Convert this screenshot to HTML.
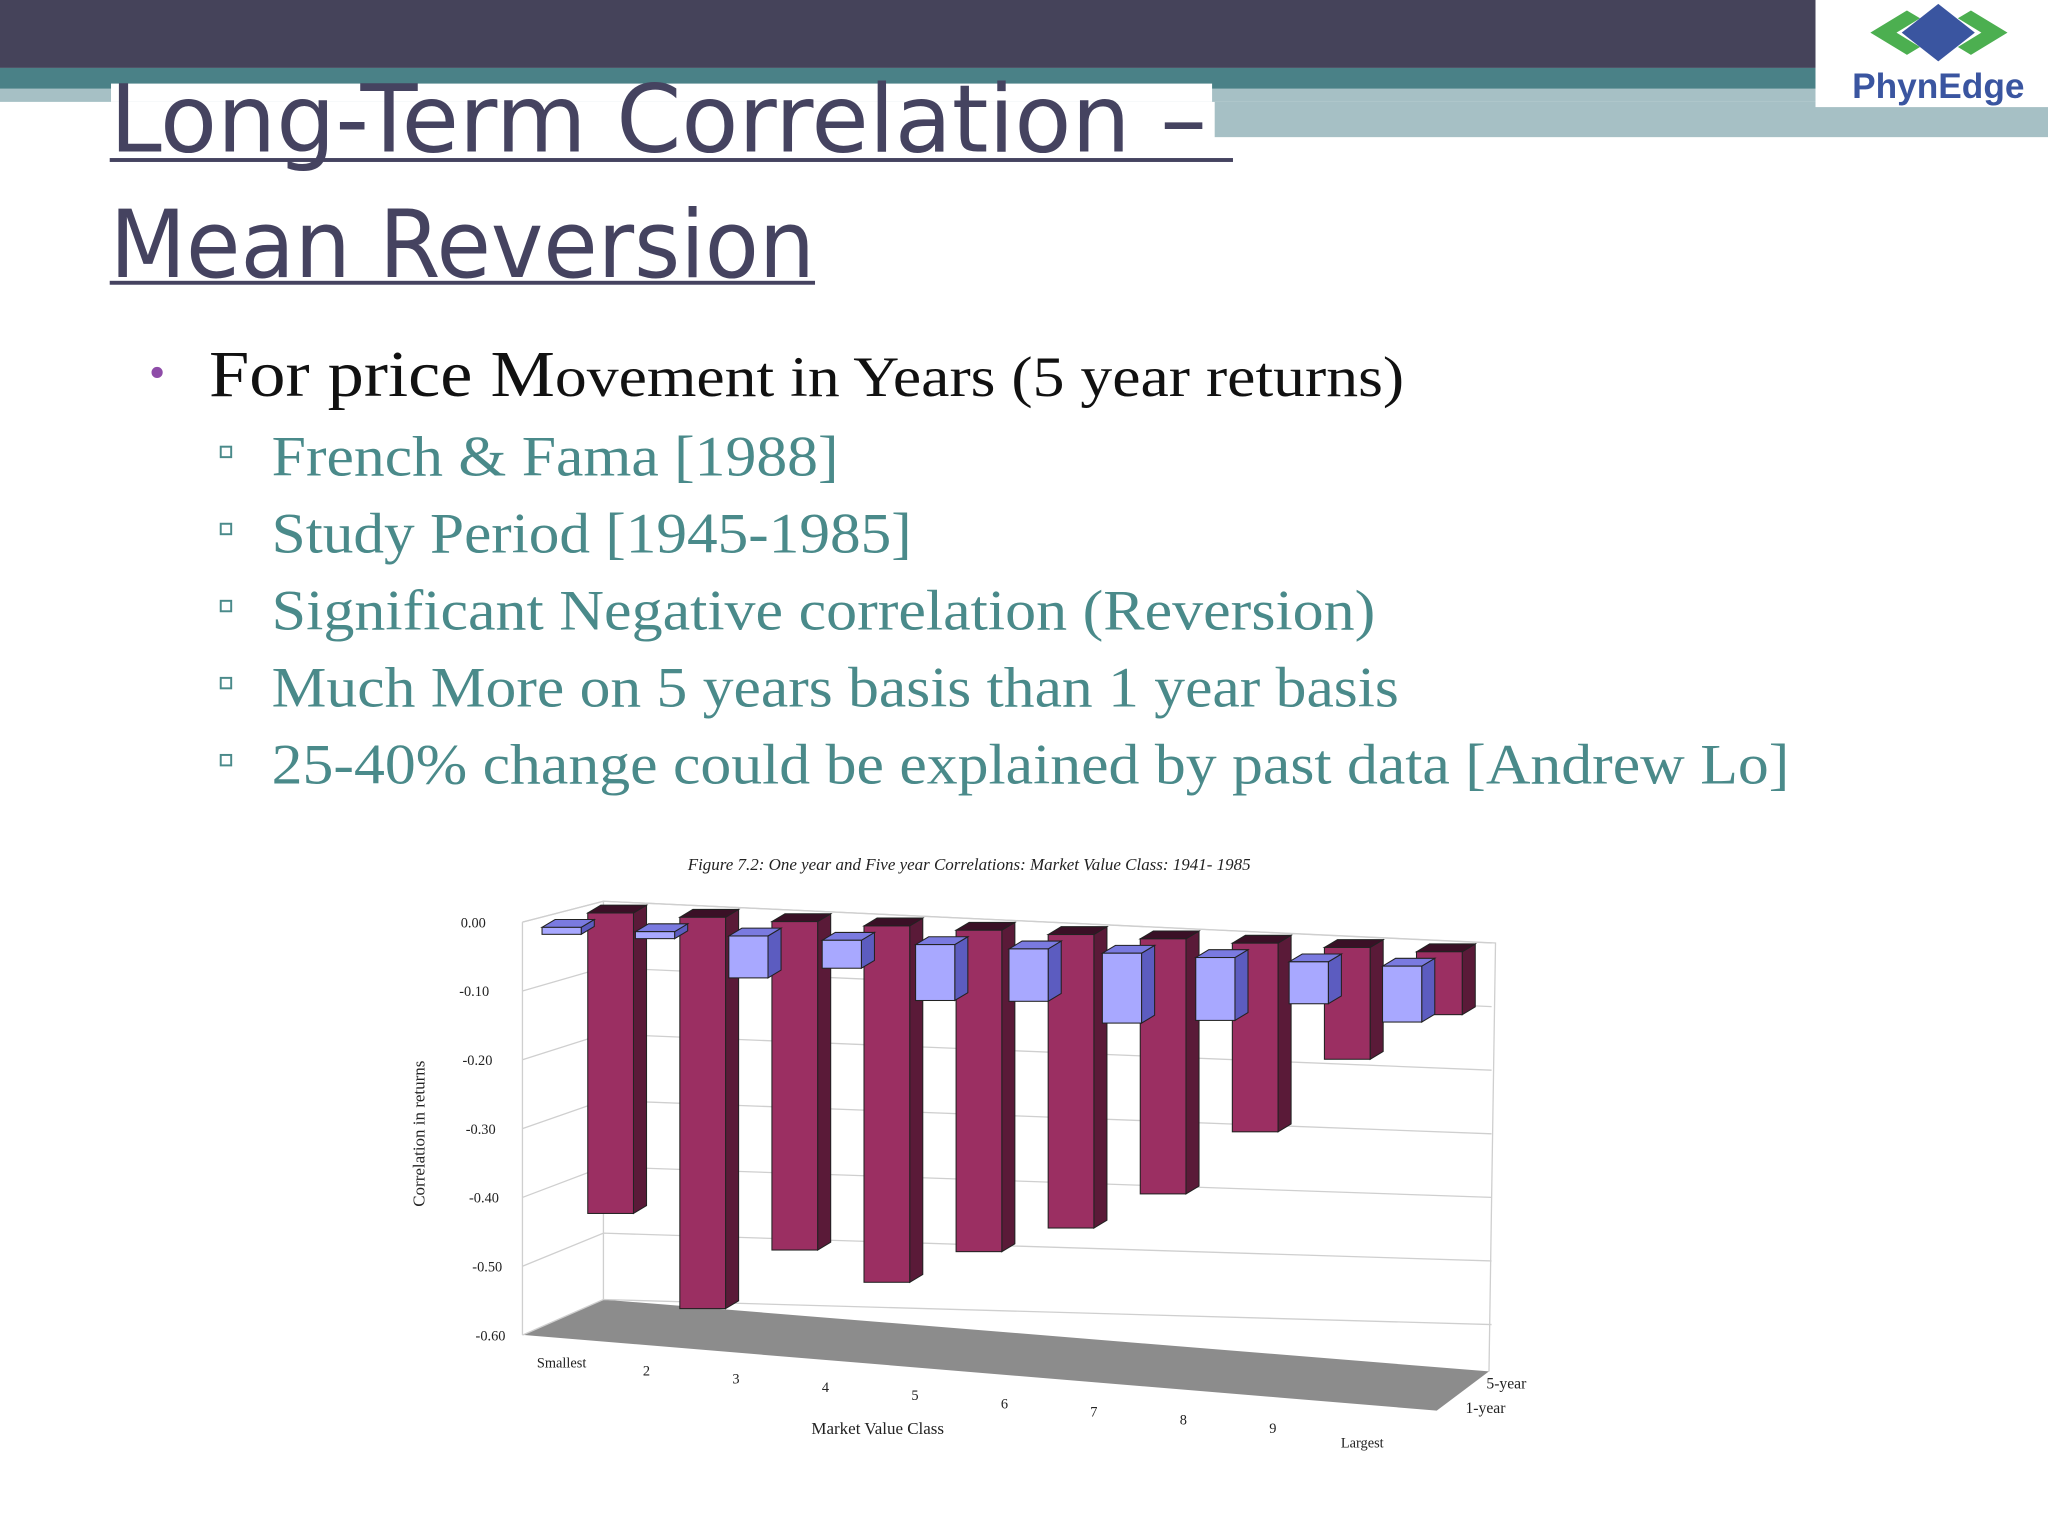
<!DOCTYPE html>
<html><head><meta charset="utf-8"><style>html,body{margin:0;padding:0;background:#fff}svg{display:block}</style></head>
<body>
<svg id="s" width="2048" height="1536" viewBox="0 0 1568 1176" xmlns="http://www.w3.org/2000/svg">
<rect x="0" y="0" width="1568" height="52" fill="#45435a"/>
<rect x="0" y="52" width="1390" height="16" fill="#4a8187"/>
<rect x="0" y="68" width="1568" height="10" fill="#a6c0c5"/>
<rect x="930" y="78" width="638" height="27" fill="#a6c0c5"/>
<rect x="1390" y="0" width="178" height="82" fill="#fff"/>
<g>
<polygon points="1432,25 1460,8 1470,14 1452,25 1470,36 1460,42" fill="#4caf50"/>
<polygon points="1537,25 1509,8 1499,14 1517,25 1499,36 1509,42" fill="#4caf50"/>
<polygon points="1484,3 1512,25 1484,47 1456,25" fill="#3a55a0"/>
<text x="1484" y="75" text-anchor="middle" font-family="Liberation Sans, sans-serif" font-size="27" font-weight="bold" fill="#3a55a0">PhynEdge</text>
</g>
<rect x="85" y="64" width="843" height="14" fill="#fff"/>
<g font-family="DejaVu Sans, Liberation Sans, sans-serif" fill="#454360" font-size="72">
<text x="84" y="116" textLength="840" lengthAdjust="spacingAndGlyphs">Long-Term Correlation –</text>
<rect x="84" y="121" width="860" height="3" fill="#454360"/>
<text x="84" y="212" textLength="540" lengthAdjust="spacingAndGlyphs">Mean Reversion</text>
<rect x="84" y="215" width="540" height="3" fill="#454360"/>
</g>
<g font-family="Liberation Serif, serif">
<text x="114" y="297" font-size="36" fill="#8e4ca8">•</text>
<text x="160" y="303" font-size="50" fill="#111" textLength="915" lengthAdjust="spacingAndGlyphs">For price M<tspan font-size="44">ovement in Years (5 year returns)</tspan></text>
<g fill="#4a8a8a" font-size="44">
<text x="208" y="364" textLength="434" lengthAdjust="spacingAndGlyphs">French &amp; Fama [1988]</text>
<text x="208" y="423" textLength="490" lengthAdjust="spacingAndGlyphs">Study Period [1945-1985]</text>
<text x="208" y="482" textLength="845" lengthAdjust="spacingAndGlyphs">Significant Negative correlation (Reversion)</text>
<text x="208" y="541" textLength="863" lengthAdjust="spacingAndGlyphs">Much More on 5 years basis than 1 year basis</text>
<text x="208" y="600" textLength="1162" lengthAdjust="spacingAndGlyphs">25-40% change could be explained by past data [Andrew Lo]</text>
</g>
<g fill="none" stroke="#4a8a8a" stroke-width="1.5">
<rect x="169" y="342" width="8" height="8"/><rect x="169" y="401" width="8" height="8"/><rect x="169" y="460" width="8" height="8"/><rect x="169" y="519" width="8" height="8"/><rect x="169" y="578" width="8" height="8"/>
</g>
</g>
<g id="chart" font-family="Liberation Serif, serif">
<text x="742" y="666" text-anchor="middle" font-size="13" font-style="italic" fill="#222">Figure 7.2: One year and Five year Correlations: Market Value Class: 1941- 1985</text>
<polygon points="400,1022 462,995 1140,1050 1100,1080" fill="#8c8c8c"/>
<g id="grid" stroke="#cfcfcf" stroke-width="1" fill="none"></g>
<g id="bars"></g>
<text transform="translate(325,868) rotate(-90)" text-anchor="middle" font-size="13" fill="#222">Correlation in returns</text>
<text x="672" y="1098" text-anchor="middle" font-size="13" fill="#222">Market Value Class</text>
<text x="1138" y="1063" font-size="12" fill="#222">5-year</text>
<text x="1122" y="1082" font-size="12" fill="#222">1-year</text>
<g id="labels" font-size="12" fill="#222"></g>
</g>
</svg>
<script>
const categories = ["Smallest","2","3","4","5","6","7","8","9","Largest"];
const oneYear = [-0.01,-0.01,-0.06,-0.04,-0.08,-0.075,-0.10,-0.09,-0.06,-0.08];
const fiveYear = [-0.43,-0.56,-0.47,-0.51,-0.46,-0.42,-0.365,-0.27,-0.16,-0.09];
const yTicks = ["0.00","-0.10","-0.20","-0.30","-0.40","-0.50","-0.60"];
const tickVals = [0,-0.1,-0.2,-0.3,-0.4,-0.5,-0.6];
const NS="http://www.w3.org/2000/svg";
const K=535;
function mk(t,a,p){const e=document.createElementNS(NS,t);for(const k in a)e.setAttribute(k,a[k]);p.appendChild(e);return e;}
const grid=document.getElementById('grid'), bars=document.getElementById('bars'), labels=document.getElementById('labels');
mk('polyline',{points:"400,706 462,690 462,995"},grid);
mk('polyline',{points:"462,690 1145,722 1140,1050"},grid);
mk('line',{x1:400,y1:706,x2:400,y2:1022},grid);
tickVals.forEach((v,j)=>{
  const yl=706-v*K*0.985, yb=690-v*K*0.95, yr=722-v*K*0.91;
  const l=mk('polyline',{points:`400,${yl} 462,${yb} 1142,${yr}`},grid);
  
  
  const t=mk('text',{x:372+j*2.5,y:yl+4,'text-anchor':'end','font-size':11},labels);
  t.textContent=yTicks[j];
  
  
});
function bar(x,y0,w,v,front,side,top,name){
  const h=-v*K, d=10, u=6;
  const g=mk('g',{},bars);
  
  
  mk('polygon',{points:`${x+w},${y0} ${x+w+d},${y0-u} ${x+w+d},${y0-u+h} ${x+w},${y0+h}`,fill:side,stroke:'#222','stroke-width':0.8},g);
  mk('polygon',{points:`${x},${y0} ${x+d},${y0-u} ${x+w+d},${y0-u} ${x+w},${y0}`,fill:top,stroke:'#222','stroke-width':0.8},g);
  mk('rect',{x:x,y:y0,width:w,height:h,fill:front,stroke:'#222','stroke-width':0.8},g);
}
categories.forEach((c,i)=>{
  bar(450+i*70.5,699+i*3.3,35,fiveYear[i],'#9b2f62','#5a1a38','#3a1026','bar-5-year-'+i);
  bar(415+i*71.5,710+i*3.3,30,oneYear[i],'#a8a8ff','#5c5cc0','#7a7ae0','bar-1-year-'+i);
  const t=mk('text',{x:(i==0?430:495+(i-1)*68.5),y:(i==0?1047:1053+(i-1)*6.3+(i==9?5:0)),'text-anchor':'middle','font-size':11},labels);
  t.textContent=c;
  
  
});
</script>
</body></html>
